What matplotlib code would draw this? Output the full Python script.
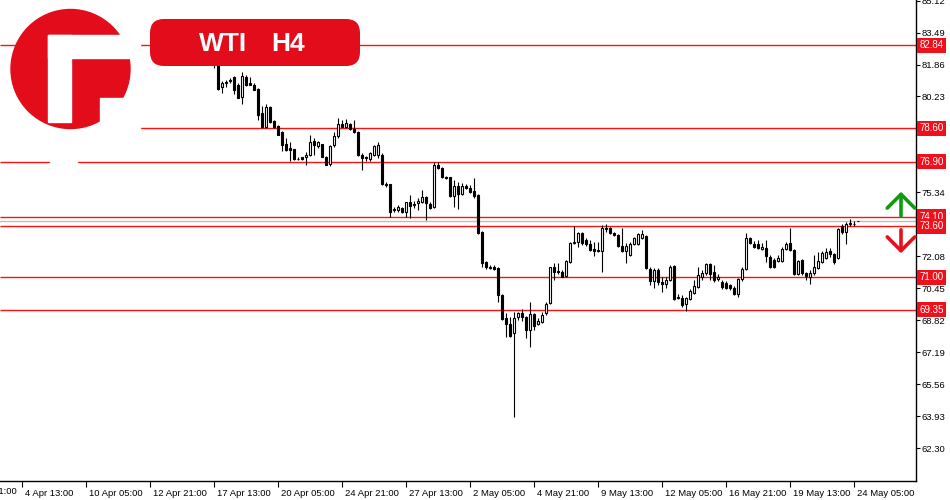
import matplotlib.pyplot as plt
import numpy as np
from matplotlib.patches import Circle, Rectangle, FancyBboxPatch
from matplotlib.transforms import blended_transform_factory, ScaledTranslation

plt.rcParams['font.family'] = ['Liberation Sans', 'DejaVu Sans']

# WTI H4 candles, first one = 17 Apr 13:00
opens = [82.58, 82.17, 80.69, 80.95, 81.05, 81.20, 80.79, 80.18, 81.20, 80.90,
         80.84, 80.59, 79.37, 78.65, 79.67, 78.96, 78.70, 78.40, 77.79, 77.58,
         77.53, 77.05, 77.13, 77.13, 77.23, 77.94, 77.68, 77.79, 77.13, 76.77,
         77.74, 78.19, 78.81, 78.65, 78.81, 78.55, 78.40, 77.23, 77.13, 77.02,
         77.23, 77.23, 77.23, 75.75, 75.75, 74.47, 74.42, 74.52, 74.32, 74.83,
         74.68, 74.78, 74.83, 75.08, 74.73, 74.58, 76.71, 76.56, 76.10, 76.10,
         75.14, 75.65, 75.24, 75.65, 75.54, 75.39, 75.19, 73.30, 71.77, 71.52,
         71.52, 71.47, 70.09, 68.92, 68.62, 68.16, 68.97, 69.18, 68.97, 68.31,
         69.13, 68.62, 68.72, 69.18, 69.69, 71.52, 71.32, 71.26, 71.06, 71.77,
         72.74, 72.79, 73.25, 72.89, 72.69, 72.44, 72.39, 72.33, 73.51, 73.51,
         73.25, 73.15, 72.59, 72.33, 72.13, 72.69, 72.69, 73.00, 73.10, 71.42,
         70.81, 71.37, 70.76, 70.65, 70.86, 71.57, 69.99, 69.94, 69.63, 69.89,
         70.19, 70.50, 71.01, 71.21, 71.67, 71.26, 70.91, 70.76, 70.70, 70.60,
         70.45, 70.14, 70.91, 71.42, 73.00, 72.69, 72.69, 72.44, 72.49, 72.03,
         71.88, 71.83, 71.83, 72.44, 72.74, 72.39, 71.16, 71.88, 71.21, 71.01,
         71.21, 71.47, 71.77, 71.98, 72.33, 72.18, 71.98, 73.61, 73.30, 73.71,
         73.71, 73.86]
highs = [82.83, 82.27, 81.00, 81.05, 81.15, 81.25, 80.90, 81.46, 81.30, 81.20,
         80.90, 80.64, 79.72, 79.83, 79.72, 79.01, 78.75, 78.45, 78.09, 77.89,
         77.53, 77.13, 77.15, 77.38, 78.29, 78.09, 77.94, 77.79, 77.18, 77.74,
         78.40, 79.11, 79.01, 79.06, 78.86, 79.01, 78.45, 77.33, 77.18, 77.38,
         77.74, 77.89, 77.33, 75.85, 75.75, 74.57, 74.68, 74.57, 74.83, 75.19,
         74.88, 75.03, 75.44, 75.14, 74.83, 76.87, 76.87, 76.61, 76.15, 76.10,
         75.95, 75.85, 75.80, 75.75, 75.70, 76.05, 75.24, 73.35, 71.82, 71.62,
         71.62, 71.52, 70.14, 69.18, 68.97, 69.23, 69.23, 69.38, 69.02, 69.74,
         69.18, 68.92, 69.23, 69.74, 71.52, 71.72, 71.72, 71.37, 71.88, 72.79,
         73.61, 73.30, 73.30, 73.00, 72.89, 72.79, 72.79, 73.66, 73.71, 73.56,
         73.30, 73.20, 73.51, 72.74, 72.79, 73.05, 73.25, 73.40, 73.15, 71.52,
         71.47, 71.47, 71.01, 71.01, 71.62, 71.62, 70.14, 70.09, 69.99, 70.40,
         70.86, 71.52, 71.37, 71.72, 71.72, 71.62, 71.16, 70.86, 70.81, 70.65,
         70.55, 70.96, 71.52, 73.25, 73.05, 72.84, 72.89, 72.74, 72.89, 72.13,
         71.98, 72.13, 72.54, 72.79, 73.51, 72.44, 71.88, 71.93, 71.26, 71.37,
         72.13, 72.28, 72.33, 72.49, 72.49, 72.23, 73.51, 73.71, 73.81, 73.96,
         73.86, 73.86]
lows = [81.66, 80.54, 80.39, 80.69, 80.90, 80.34, 80.13, 79.87, 80.74, 80.79,
        80.54, 79.01, 78.60, 78.60, 78.86, 78.60, 78.24, 77.43, 77.43, 76.92,
        76.97, 76.97, 77.00, 76.72, 77.18, 77.23, 77.58, 77.13, 76.72, 76.66,
        77.63, 78.09, 78.65, 78.60, 78.50, 78.35, 77.18, 76.46, 76.92, 76.92,
        77.18, 77.07, 75.70, 75.59, 74.07, 74.32, 74.32, 74.27, 74.07, 74.02,
        74.52, 74.42, 74.78, 73.91, 74.47, 74.52, 76.51, 76.05, 76.00, 75.08,
        74.58, 74.47, 75.19, 75.49, 75.29, 75.03, 73.20, 71.52, 71.42, 71.42,
        71.37, 69.74, 68.82, 67.95, 67.95, 63.88, 68.82, 68.77, 67.90, 67.44,
        68.31, 68.56, 68.67, 69.07, 69.63, 70.86, 71.16, 71.01, 71.01, 71.72,
        72.69, 72.54, 72.64, 72.59, 72.33, 72.08, 72.28, 71.26, 73.30, 73.20,
        73.10, 72.54, 72.28, 71.72, 72.08, 72.64, 72.64, 72.95, 71.42, 70.60,
        70.45, 70.60, 70.25, 70.45, 70.81, 69.84, 69.89, 69.48, 69.28, 69.84,
        70.14, 70.45, 70.86, 71.11, 70.86, 70.76, 70.81, 70.40, 70.40, 70.35,
        70.09, 69.99, 70.81, 71.37, 72.69, 72.49, 72.44, 72.39, 71.77, 71.47,
        71.47, 71.77, 71.77, 72.39, 72.33, 71.11, 71.11, 71.11, 70.86, 70.65,
        71.11, 71.42, 71.72, 71.93, 72.03, 71.67, 71.93, 73.20, 72.69, 73.61,
        73.61, 73.86]
closes = [82.17, 80.59, 80.90, 80.92, 81.03, 80.54, 80.13, 81.25, 80.84, 80.84,
          80.54, 79.27, 78.65, 79.67, 78.91, 78.65, 78.29, 77.74, 77.48, 77.48,
          77.02, 77.02, 77.02, 77.23, 77.89, 77.74, 77.89, 77.13, 76.72, 77.68,
          78.19, 78.81, 78.65, 78.86, 78.55, 78.40, 77.23, 77.07, 77.10, 77.33,
          77.68, 77.74, 75.75, 75.70, 74.32, 74.45, 74.57, 74.32, 74.83, 74.63,
          74.73, 74.88, 75.08, 74.78, 74.52, 76.71, 76.56, 76.10, 76.05, 75.14,
          75.65, 75.24, 75.65, 75.54, 75.34, 75.14, 73.25, 71.72, 71.52, 71.47,
          71.42, 70.09, 68.87, 68.62, 68.00, 68.92, 69.18, 68.97, 68.31, 69.13,
          68.51, 68.77, 69.07, 69.63, 71.52, 71.26, 71.26, 71.01, 71.83, 72.74,
          72.79, 73.25, 72.74, 72.69, 72.39, 72.33, 72.36, 73.51, 73.45, 73.25,
          73.15, 72.59, 72.33, 72.59, 72.69, 73.00, 73.20, 73.20, 71.47, 70.81,
          71.37, 70.76, 70.65, 70.86, 71.52, 69.89, 69.97, 69.58, 69.94, 70.30,
          70.55, 71.11, 71.21, 71.67, 71.16, 70.86, 71.01, 70.50, 70.45, 70.45,
          70.14, 70.91, 71.42, 73.00, 72.74, 72.54, 72.49, 72.54, 72.08, 71.52,
          71.52, 71.98, 72.44, 72.69, 72.39, 71.16, 71.83, 71.21, 71.06, 71.21,
          71.52, 71.83, 72.23, 72.28, 72.18, 71.77, 73.45, 73.30, 73.71, 73.76,
          73.74, 73.86]

# support / resistance levels
levels = [82.84, 78.60, 76.90, 74.10, 73.60, 71.00, 69.35]

yticks = [62.30, 63.93, 65.56, 67.19, 68.82, 70.45, 72.08, 73.71, 75.34,
          76.97, 78.60, 80.23, 81.86, 83.49, 85.12]
xtick_pos = [-48, -32, -16, 0, 16, 32, 48, 64, 80, 96, 112, 128, 144, 160]
xtick_lab = ['4 Apr 13:00', '10 Apr 05:00', '12 Apr 21:00',
             '17 Apr 13:00', '20 Apr 05:00', '24 Apr 21:00', '27 Apr 13:00',
             '2 May 05:00', '4 May 21:00', '9 May 13:00', '12 May 05:00',
             '16 May 21:00', '19 May 13:00', '24 May 05:00']
# label of the tick just left of the window, only its tail shows
cut_pos = -64
cut_lab = '30 Mar 21:00'

RED = '#ff1010'
BOX = '#f0101c'
BRAND = '#e20c1b'
XL = (-53.5, 175.5)
YL = (60.62, 85.15)

o = np.array(opens)
h = np.array(highs)
l = np.array(lows)
c = np.array(closes)
x = np.arange(len(o))

fig = plt.figure(figsize=(9.5, 5), dpi=100)
ax = fig.add_axes([0, 19 / 500, 916 / 950, 481 / 500])

# horizontal levels
for lv in levels:
    start = -18.75 if lv == 78.60 else XL[0]
    ax.hlines(lv, start, XL[1], color=RED, lw=1.0, zorder=1)
ax.axhline(c[-1], color='#bdbdbd', lw=1.0, zorder=1)

# candles
ax.vlines(x, l, h, color='black', lw=0.8, zorder=2)
up = c >= o
bottoms = np.minimum(o, c)
heights = np.abs(c - o)
ax.bar(x[up], heights[up], bottom=bottoms[up], width=0.55,
       color='white', edgecolor='black', lw=0.8, zorder=3)
ax.bar(x[~up], heights[~up], bottom=bottoms[~up], width=0.55,
       color='black', edgecolor='black', lw=0.8, zorder=3)

# axes styling
for s in ['left', 'top']:
    ax.spines[s].set_visible(False)
ax.spines['right'].set_linewidth(1.0)
ax.spines['bottom'].set_linewidth(1.0)
ax.yaxis.tick_right()
ax.set_yticks(yticks)
ax.set_yticklabels(['%.2f' % v for v in yticks], fontsize=6.8)
ax.tick_params(axis='y', length=3, width=0.8, pad=1)
ax.set_xticks(xtick_pos)
ax.set_xticklabels(xtick_lab, fontsize=6.8, ha='left')
ax.tick_params(axis='x', length=4, width=0.8, pad=2)
off = ScaledTranslation(3 / 100, 0, fig.dpi_scale_trans)
for lab in ax.get_xticklabels():
    lab.set_transform(lab.get_transform() + off)
# limits last: set_xticks would widen them
ax.set_xlim(*XL)
ax.set_ylim(*YL)

bx = blended_transform_factory(ax.transData, ax.transAxes)
ax.text(cut_pos, 0, cut_lab, transform=bx + off, fontsize=6.8, ha='left',
        va='top', clip_on=False).set_y(-6 / 481)

# level price tags on the right axis
tr = blended_transform_factory(ax.transAxes, ax.transData)
for lv in levels:
    ax.text(1.004, lv, '%.2f' % lv, transform=tr, color='white', fontsize=7,
            va='center', ha='left', clip_on=False, zorder=6,
            bbox=dict(boxstyle='square,pad=0.25', fc=BOX, ec='none'))

# overlay in pixel coordinates: logo, title banner, arrows
ov = fig.add_axes([0, 0, 1, 1], zorder=5)
ov.set_xlim(0, 950)
ov.set_ylim(500, 0)
ov.axis('off')
ov.patch.set_alpha(0)

ov.add_patch(Circle((70.5, 69), 59.5, color=BRAND))
ov.add_patch(Rectangle((48, 35), 23, 87, color='white'))
ov.add_patch(Rectangle((48, 35), 92, 23, color='white'))
ov.add_patch(Rectangle((100, 97.5), 40, 40, color='white'))
ov.add_patch(Rectangle((50, 157), 27, 8, color='white'))

ov.add_patch(FancyBboxPatch((150, 19), 210, 47, boxstyle='round,pad=0,rounding_size=14',
                            fc=BRAND, ec='none'))
ov.text(223.5, 44, 'WTI', color='white', fontsize=19, fontweight='bold',
        ha='center', va='center')
ov.text(288.5, 44, 'H4', color='white', fontsize=19, fontweight='bold',
        ha='center', va='center')

ov.annotate('', xy=(901, 189), xytext=(901, 219),
            arrowprops=dict(arrowstyle='->,head_length=0.45,head_width=0.45',
                            lw=2.6, color='#119a11', mutation_scale=22))
ov.annotate('', xy=(901, 256), xytext=(901, 227),
            arrowprops=dict(arrowstyle='->,head_length=0.45,head_width=0.45',
                            lw=2.6, color='#e8101c', mutation_scale=22))

fig.savefig('out.png', dpi=100)
